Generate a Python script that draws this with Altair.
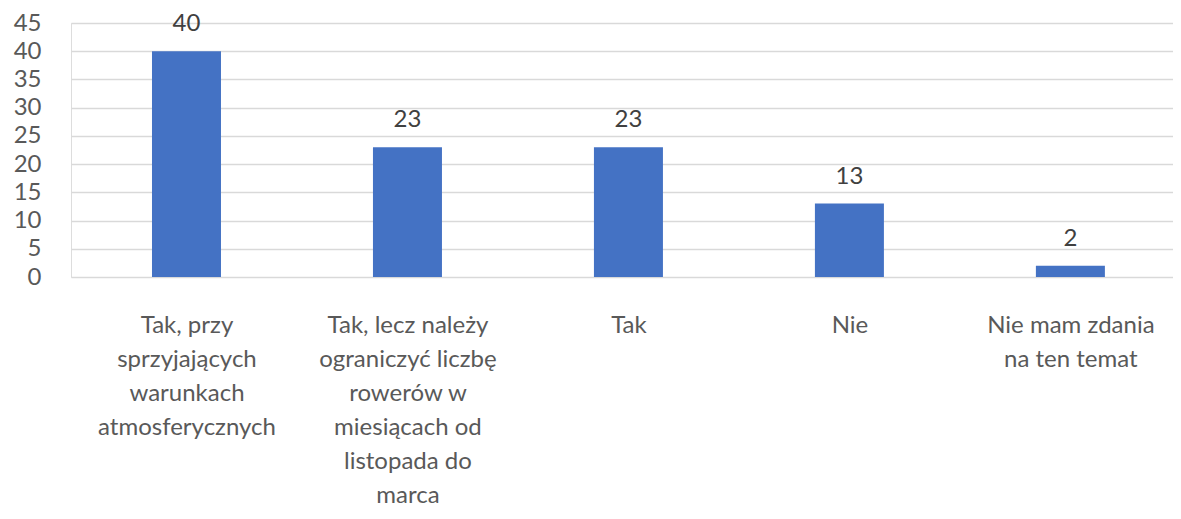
import json
import altair as alt
import pandas as pd

categories = [
    "Tak, przy\nsprzyjających\nwarunkach\natmosferycznych",
    "Tak, lecz należy\nograniczyć liczbę\nrowerów w\nmiesiącach od\nlistopada do\nmarca",
    "Tak",
    "Nie",
    "Nie mam zdania\nna ten temat",
]
values = [40, 23, 23, 13, 2]
y_ticks = [0, 5, 10, 15, 20, 25, 30, 35, 40, 45]

positions = [i + 0.5 for i in range(len(categories))]
df = pd.DataFrame({"kategoria": categories, "pozycja": positions, "wartosc": values})

FONT = "Lato"
PLOT_W = 1102
STEP = 223  # px per category (plot area continues past the right edge)

label_expr = "split(" + json.dumps(categories, ensure_ascii=False) + "[round(datum.value - 0.5)], '\\n')"

x_enc = alt.X(
    "pozycja:Q",
    title=None,
    scale=alt.Scale(domain=[0, PLOT_W / STEP], nice=False, zero=False),
    axis=alt.Axis(
        values=positions,
        labelExpr=label_expr,
        labelAngle=0,
        labelAlign="center",
        labelBaseline="top",
        labelFont=FONT,
        labelFontSize=24,
        labelColor="#595959",
        labelLineHeight=34,
        labelPadding=36,
        labelLimit=0,
        labelOverlap=False,
        labelFlush=False,
        ticks=False,
        domain=False,
        grid=False,
    ),
)

y_enc = alt.Y(
    "wartosc:Q",
    title=None,
    scale=alt.Scale(domain=[0, 45], nice=False),
    axis=alt.Axis(
        values=y_ticks,
        labelOverlap=False,
        labelFont=FONT,
        labelFontSize=24,
        labelColor="#595959",
        labelPadding=30,
        ticks=False,
        domain=False,
        grid=True,
        gridColor="#d9d9d9",
        gridWidth=1.3,
    ),
)

base = alt.Chart(df).encode(x=x_enc, y=y_enc)

bars = base.mark_bar(color="#4472C4", size=69)

labels = base.mark_text(
    font=FONT, fontSize=24, color="#404040", baseline="alphabetic", dy=-20
).encode(text=alt.Text("wartosc:Q"))

chart = (
    alt.layer(bars, labels)
    .properties(
        width=PLOT_W,
        height=254,
        padding={"left": 63, "top": 15, "right": 0, "bottom": 234},
        autosize=alt.AutoSizeParams(type="none"),
    )
    .configure_view(stroke=None)
    .configure(background="white")
)

chart.save("out.html", embed_options={"renderer": "svg", "actions": False})
